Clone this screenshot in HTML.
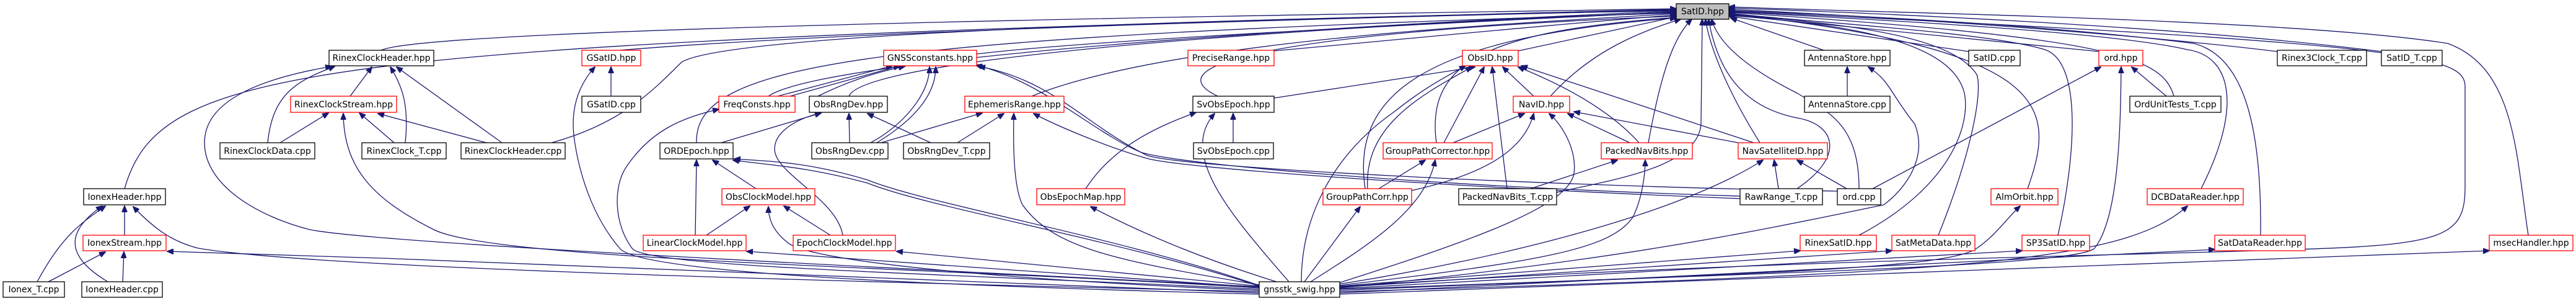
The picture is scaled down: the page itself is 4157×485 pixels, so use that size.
<!DOCTYPE html>
<html><head><meta charset="utf-8"><style>
html,body{margin:0;padding:0;background:#fff;}
svg{display:block;}
text{font-family:"DejaVu Sans","Liberation Sans",sans-serif;font-size:14px;fill:#000;}
.e{fill:none;stroke:#191970;stroke-width:1.3;marker-end:url(#a);}
.b{fill:#fff;stroke:#000;stroke-width:1.3;}
.r{fill:#fff;stroke:#f00;stroke-width:1.3;}
</style></head><body>
<svg width="4157" height="485" viewBox="0 0 4157 485" xmlns="http://www.w3.org/2000/svg">
<defs><marker id="a" markerWidth="11" markerHeight="9" refX="10" refY="4.5" orient="auto" markerUnits="userSpaceOnUse"><path d="M0,0 L11,4.5 L0,9 z" fill="#191970" stroke="#191970"/></marker></defs>
<g>
<!-- to SatID -->
<path class="e" d="M615,81 C700,40 2400,20 2705,14"/>
<path class="e" d="M201,304 C260,100 500,70 2705,15"/>
<path class="e" d="M1000,81 C1500,40 2600,20 2705,16"/>
<path class="e" d="M890,230 C1000,200 1050,150 1100,100 C1200,40 2500,22 2705,17"/>
<path class="e" d="M1240,155 C1350,80 2500,25 2705,18"/>
<path class="e" d="M1576,87 C1800,60 2500,30 2705,19"/>
<path class="e" d="M1370,155 C1400,80 2400,30 2705,20"/>
<path class="e" d="M1124,230 C1120,100 1400,60 2705,21"/>
<path class="e" d="M1665,155 C1900,60 2500,35 2705,22"/>
<path class="e" d="M2056,82 C2300,60 2500,40 2705,24"/>
<path class="e" d="M1965,155 C1850,100 2100,50 2705,26"/>
<path class="e" d="M2450,82 L2705,27"/>
<path class="e" d="M2502,155 C2570,80 2650,50 2712,31"/>
<path class="e" d="M2318,230 C2300,100 2400,50 2705,28"/>
<path class="e" d="M2203,304 C2180,150 2300,60 2705,29"/>
<path class="e" d="M2660,230 C2680,120 2700,60 2730,31"/>
<path class="e" d="M2512,310 C2600,290 2740,270 2745,200 L2747,31"/>
<path class="e" d="M2840,230 C2790,150 2760,80 2752,31"/>
<path class="e" d="M2900,304 C2980,250 2960,200 2900,190 C2800,170 2770,100 2757,31"/>
<path class="e" d="M3000,304 C3000,200 2950,180 2900,150 C2800,100 2770,60 2762,31"/>
<path class="e" d="M2943,81 L2793,29"/>
<path class="e" d="M3177,83 L2790,26"/>
<path class="e" d="M3387,83 L2790,24"/>
<path class="e" d="M3508,155 C3490,90 3400,60 2790,20"/>
<path class="e" d="M3272,304 C3320,170 3310,80 2790,22"/>
<path class="e" d="M3000,379 C3150,300 3180,200 3170,150 C3150,70 3000,40 2790,25"/>
<path class="e" d="M3128,379 C3180,250 3200,150 3190,120 C3150,60 3000,40 2790,23"/>
<path class="e" d="M3321,379 C3350,250 3360,100 3300,80 C3200,50 2900,35 2790,21"/>
<path class="e" d="M3552,304 C3620,170 3600,90 3530,80 C3400,50 3000,30 2790,19"/>
<path class="e" d="M3648,379 C3650,200 3620,90 3540,70 C3300,40 3000,25 2790,17"/>
<path class="e" d="M3675,83 C3400,50 3000,25 2790,15"/>
<path class="e" d="M3843,83 C3500,40 3000,20 2790,13"/>
<path class="e" d="M4080,379 C4060,250 4060,110 3950,70 C3700,30 3000,20 2790,11"/>
<path class="e" d="M2162,462 C2800,420 3500,410 3700,402 C3950,395 3978,380 3978,300 L3978,140 C3978,90 3900,70 2790,18"/>
<!-- RinexClock -->
<path class="e" d="M565,155 L600,108"/>
<path class="e" d="M432,230 C440,150 480,130 540,107"/>
<path class="e" d="M452,230 L530,182"/>
<path class="e" d="M654,230 C660,170 650,140 630,108"/>
<path class="e" d="M636,230 L580,182"/>
<path class="e" d="M810,230 L640,108"/>
<path class="e" d="M785,230 L610,183"/>
<path class="e" d="M2032,462 C1200,420 600,390 500,370 C420,350 330,300 330,230 C330,170 400,130 535,107"/>
<path class="e" d="M2032,464 C1500,430 800,420 700,370 C600,320 555,270 554,183"/>
<!-- Ionex -->
<path class="e" d="M201,379 L201,332"/>
<path class="e" d="M60,454 C100,380 130,360 170,332"/>
<path class="e" d="M78,454 L170,406"/>
<path class="e" d="M174,454 C100,410 110,370 165,332"/>
<path class="e" d="M198,454 L200,406"/>
<path class="e" d="M2032,470 C1200,450 500,430 320,400 C280,390 250,370 215,333"/>
<path class="e" d="M2032,472 C1200,440 800,420 270,405"/>
<!-- GSatID -->
<path class="e" d="M986,155 L986,108"/>
<path class="e" d="M2032,474 C1500,460 1030,440 1000,400 C940,330 925,230 925,200 C925,160 940,130 960,108"/>
<!-- Freq / GNSS / ObsRngDev -->
<path class="e" d="M1255,155 L1440,106"/>
<path class="e" d="M1275,155 L1452,106"/>
<path class="e" d="M1320,155 C1370,130 1420,115 1460,107"/>
<path class="e" d="M1164,230 L1325,182"/>
<path class="e" d="M2032,466 C1500,440 1040,430 1020,400 C990,360 990,300 1010,270 C1050,210 1100,190 1160,176"/>
<path class="e" d="M1371,230 L1370,183"/>
<path class="e" d="M1405,230 C1460,200 1500,150 1500,108"/>
<path class="e" d="M1415,230 C1480,190 1510,150 1510,108"/>
<path class="e" d="M1502,230 L1400,183"/>
<path class="e" d="M1545,230 L1620,183"/>
<path class="e" d="M1415,232 L1585,182"/>
<path class="e" d="M1220,304 L1150,258"/>
<path class="e" d="M1122,379 L1124,258"/>
<path class="e" d="M1140,379 L1210,332"/>
<path class="e" d="M1340,379 L1265,332"/>
<path class="e" d="M1360,379 C1350,320 1250,280 1250,240 C1250,210 1290,190 1325,182"/>
<path class="e" d="M2032,460 C1800,380 1500,330 1400,290 C1300,260 1240,260 1185,256"/>
<path class="e" d="M2032,461 C1800,385 1500,335 1400,295 C1300,268 1240,266 1183,258"/>
<path class="e" d="M2032,468 C1600,450 1300,420 1270,390 C1245,370 1240,350 1240,333"/>
<path class="e" d="M2032,463 L1205,405"/>
<path class="e" d="M2032,461 L1447,405"/>
<path class="e" d="M2032,459 C1800,420 1700,400 1650,330 C1635,300 1635,230 1636,183"/>
<path class="e" d="M2060,454 C1950,420 1850,380 1760,333"/>
<path class="e" d="M1752,304 C1800,230 1880,200 1930,181"/>
<path class="e" d="M2080,454 C1990,350 1900,250 1960,183"/>
<path class="e" d="M1990,230 L1990,183"/>
<path class="e" d="M2056,158 L2380,108"/>
<path class="e" d="M2965,308 C2500,300 1900,270 1850,250 C1750,200 1700,130 1580,107"/>
<path class="e" d="M2808,316 C2300,300 1900,265 1840,245 C1760,210 1680,130 1575,105"/>
<path class="e" d="M2808,320 C2300,300 1900,270 1850,255 C1780,235 1700,200 1668,183"/>
<!-- ObsID / NavID -->
<path class="e" d="M2330,230 L2395,108"/>
<path class="e" d="M2207,304 C2200,200 2300,150 2375,108"/>
<path class="e" d="M2475,155 L2425,108"/>
<path class="e" d="M2432,304 L2408,108"/>
<path class="e" d="M2645,230 C2600,180 2530,140 2450,108"/>
<path class="e" d="M2830,230 L2455,106"/>
<path class="e" d="M2100,454 C2100,350 2150,250 2250,180 C2300,140 2340,120 2365,106"/>
<path class="e" d="M2345,230 L2460,183"/>
<path class="e" d="M2278,307 C2400,280 2460,240 2475,183"/>
<path class="e" d="M2160,456 C2400,380 2530,330 2540,280 C2545,240 2520,200 2500,183"/>
<path class="e" d="M2630,230 L2530,183"/>
<path class="e" d="M2805,230 L2540,180"/>
<path class="e" d="M2225,304 L2300,258"/>
<path class="e" d="M2115,454 C2200,400 2300,340 2316,258"/>
<path class="e" d="M2105,454 L2195,333"/>
<path class="e" d="M2470,304 L2610,258"/>
<path class="e" d="M2160,460 C2500,420 2600,400 2635,350 C2650,320 2655,280 2655,258"/>
<path class="e" d="M2870,304 L2863,258"/>
<path class="e" d="M2980,304 L2900,258"/>
<path class="e" d="M2160,458 C2400,420 2700,350 2845,258"/>
<!-- right side -->
<path class="e" d="M2981,155 L2981,108"/>
<path class="e" d="M2162,464 C2600,420 2800,380 3040,330 C3080,300 3110,250 3090,200 C3050,150 3050,130 3015,108"/>
<path class="e" d="M3022,304 L3390,108"/>
<path class="e" d="M3496,155 L3440,108"/>
<path class="e" d="M2162,468 C2800,440 3350,430 3380,400 C3420,350 3422,200 3423,108"/>
<path class="e" d="M2162,466 C2900,440 3150,430 3190,400 C3220,380 3240,350 3260,332"/>
<path class="e" d="M2162,461 L2905,404"/>
<path class="e" d="M2162,463 L3053,404"/>
<path class="e" d="M2162,465 L3263,404"/>
<path class="e" d="M2162,470 C3200,440 3430,420 3530,332"/>
<path class="e" d="M2162,472 L3574,402"/>
<path class="e" d="M2162,474 L4017,404"/>
</g>
<g>
<rect class="b" x="2705" y="6" width="85" height="25" style="fill:#bfbfbf"/><text x="2747.5" y="23" text-anchor="middle">SatID.hpp</text>
<rect class="b" x="531" y="81" width="169" height="25"/><text x="615.5" y="98" text-anchor="middle">RinexClockHeader.hpp</text>
<rect class="r" x="469" y="155" width="171" height="26"/><text x="554.5" y="173" text-anchor="middle">RinexClockStream.hpp</text>
<rect class="b" x="355" y="230" width="153" height="26"/><text x="431.5" y="248" text-anchor="middle">RinexClockData.cpp</text>
<rect class="b" x="584" y="230" width="136" height="26"/><text x="652" y="248" text-anchor="middle">RinexClock_T.cpp</text>
<rect class="b" x="135" y="304" width="132" height="26"/><text x="201" y="322" text-anchor="middle">IonexHeader.hpp</text>
<rect class="r" x="134" y="379" width="134" height="25"/><text x="201" y="396" text-anchor="middle">IonexStream.hpp</text>
<rect class="b" x="5" y="454" width="99" height="25"/><text x="54.5" y="471" text-anchor="middle">Ionex_T.cpp</text>
<rect class="b" x="132" y="454" width="130" height="25"/><text x="197" y="471" text-anchor="middle">IonexHeader.cpp</text>
<rect class="r" x="939" y="81" width="95" height="25"/><text x="986.5" y="98" text-anchor="middle">GSatID.hpp</text>
<rect class="b" x="939" y="155" width="95" height="26"/><text x="986.5" y="173" text-anchor="middle">GSatID.cpp</text>
<rect class="b" x="744" y="230" width="168" height="26"/><text x="828" y="248" text-anchor="middle">RinexClockHeader.cpp</text>
<rect class="r" x="1160" y="155" width="123" height="26"/><text x="1221.5" y="173" text-anchor="middle">FreqConsts.hpp</text>
<rect class="b" x="1306" y="155" width="126" height="26"/><text x="1369" y="173" text-anchor="middle">ObsRngDev.hpp</text>
<rect class="b" x="1065" y="230" width="118" height="26"/><text x="1124" y="248" text-anchor="middle">ORDEpoch.hpp</text>
<rect class="b" x="1310" y="230" width="123" height="26"/><text x="1371.5" y="248" text-anchor="middle">ObsRngDev.cpp</text>
<rect class="r" x="1165" y="304" width="150" height="26"/><text x="1240" y="322" text-anchor="middle">ObsClockModel.hpp</text>
<rect class="r" x="1038" y="379" width="166" height="25"/><text x="1121" y="396" text-anchor="middle">LinearClockModel.hpp</text>
<rect class="r" x="1280" y="379" width="165" height="25"/><text x="1362.5" y="396" text-anchor="middle">EpochClockModel.hpp</text>
<rect class="r" x="1426" y="81" width="150" height="25"/><text x="1501" y="98" text-anchor="middle">GNSSconstants.hpp</text>
<rect class="r" x="1557" y="155" width="160" height="26"/><text x="1637" y="173" text-anchor="middle">EphemerisRange.hpp</text>
<rect class="b" x="1458" y="230" width="139" height="26"/><text x="1527.5" y="248" text-anchor="middle">ObsRngDev_T.cpp</text>
<rect class="r" x="1917" y="81" width="139" height="25"/><text x="1986.5" y="98" text-anchor="middle">PreciseRange.hpp</text>
<rect class="b" x="1925" y="155" width="131" height="26"/><text x="1990.5" y="173" text-anchor="middle">SvObsEpoch.hpp</text>
<rect class="b" x="1926" y="230" width="129" height="26"/><text x="1990.5" y="248" text-anchor="middle">SvObsEpoch.cpp</text>
<rect class="r" x="1673" y="304" width="142" height="26"/><text x="1744" y="322" text-anchor="middle">ObsEpochMap.hpp</text>
<rect class="b" x="2032" y="454" width="130" height="25"/><text x="2097" y="471" text-anchor="middle">gnsstk_swig.hpp</text>
<rect class="r" x="2360" y="81" width="90" height="25"/><text x="2405" y="98" text-anchor="middle">ObsID.hpp</text>
<rect class="r" x="2442" y="155" width="91" height="26"/><text x="2487.5" y="173" text-anchor="middle">NavID.hpp</text>
<rect class="r" x="2232" y="230" width="176" height="26"/><text x="2320" y="248" text-anchor="middle">GroupPathCorrector.hpp</text>
<rect class="r" x="2584" y="230" width="147" height="26"/><text x="2657.5" y="248" text-anchor="middle">PackedNavBits.hpp</text>
<rect class="r" x="2135" y="304" width="143" height="26"/><text x="2206.5" y="322" text-anchor="middle">GroupPathCorr.hpp</text>
<rect class="b" x="2354" y="304" width="158" height="26"/><text x="2433" y="322" text-anchor="middle">PackedNavBits_T.cpp</text>
<rect class="b" x="2912" y="81" width="138" height="25"/><text x="2981" y="98" text-anchor="middle">AntennaStore.hpp</text>
<rect class="b" x="2912" y="155" width="138" height="26"/><text x="2981" y="173" text-anchor="middle">AntennaStore.cpp</text>
<rect class="b" x="3177" y="81" width="83" height="25"/><text x="3218.5" y="98" text-anchor="middle">SatID.cpp</text>
<rect class="r" x="3387" y="81" width="71" height="25"/><text x="3422.5" y="98" text-anchor="middle">ord.hpp</text>
<rect class="b" x="3437" y="155" width="147" height="26"/><text x="3510.5" y="173" text-anchor="middle">OrdUnitTests_T.cpp</text>
<rect class="r" x="2805" y="230" width="144" height="26"/><text x="2877" y="248" text-anchor="middle">NavSatelliteID.hpp</text>
<rect class="b" x="2808" y="304" width="133" height="26"/><text x="2874.5" y="322" text-anchor="middle">RawRange_T.cpp</text>
<rect class="b" x="2965" y="304" width="70" height="26"/><text x="3000" y="322" text-anchor="middle">ord.cpp</text>
<rect class="r" x="3213" y="304" width="108" height="26"/><text x="3267" y="322" text-anchor="middle">AlmOrbit.hpp</text>
<rect class="r" x="2905" y="379" width="123" height="25"/><text x="2966.5" y="396" text-anchor="middle">RinexSatID.hpp</text>
<rect class="r" x="3053" y="379" width="134" height="25"/><text x="3120" y="396" text-anchor="middle">SatMetaData.hpp</text>
<rect class="r" x="3263" y="379" width="109" height="25"/><text x="3317.5" y="396" text-anchor="middle">SP3SatID.hpp</text>
<rect class="r" x="3465" y="304" width="155" height="26"/><text x="3542.5" y="322" text-anchor="middle">DCBDataReader.hpp</text>
<rect class="r" x="3574" y="379" width="146" height="25"/><text x="3647" y="396" text-anchor="middle">SatDataReader.hpp</text>
<rect class="r" x="4017" y="379" width="135" height="25"/><text x="4084.5" y="396" text-anchor="middle">msecHandler.hpp</text>
<rect class="b" x="3675" y="81" width="144" height="25"/><text x="3747" y="98" text-anchor="middle">Rinex3Clock_T.cpp</text>
<rect class="b" x="3843" y="81" width="98" height="25"/><text x="3892" y="98" text-anchor="middle">SatID_T.cpp</text>
</g>
</svg>
</body></html>
